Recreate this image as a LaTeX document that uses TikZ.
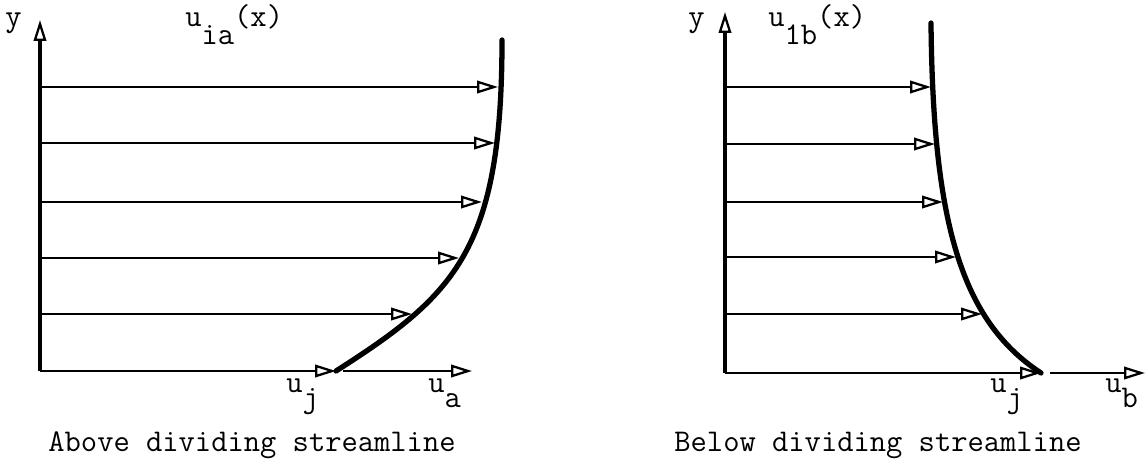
\documentclass[tikz,border=0pt]{standalone}
\usepackage{tikz}
\usetikzlibrary{arrows.meta}

\begin{document}
\begin{tikzpicture}[x=0.02cm, y=-0.02cm,
    vec/.style={line width=1.3pt, -{Triangle[open, length=0.42cm, width=0.25cm, line width=1.3pt]}},
    axis/.style={vec, line width=1.8pt},
    profile/.style={line width=3pt, line cap=round},
    lbl/.style={font=\fontsize{18}{21}\selectfont\ttfamily, inner sep=0pt}]
    \useasboundingbox (0,0) rectangle (1147,463);

    % Above dividing streamline
    \coordinate (oa) at (40,371);
    \coordinate (ya) at (40,20);
    \coordinate (xa) at (472,371);
    \coordinate (ja) at (336,371);
    \coordinate (ta) at (502,40);
    \foreach \n/\yy/\xx in {1/314/412, 2/258/459, 3/202/482, 4/143/495, 5/87/498} {
        \coordinate (la\n) at (40,\yy);
        \coordinate (pa\n) at (\xx,\yy);
    }
    \draw[axis] (oa) -- (ya);
    \draw[vec] (oa) -- (ja);
    \draw[vec, shorten <=4pt] (ja) -- (xa);
    \foreach \n in {1,...,5}
        \draw[vec] (la\n) -- (pa\n);
    \draw[profile] (ja) .. controls (455,295) and (502,250) .. (ta);

    \node[lbl, anchor=base west] (ylab-a) at (5,27) {y};
    \node[lbl, anchor=base west] (prof-a) at (185,27) {u\raisebox{-.55em}{ia}(x)};
    \node[lbl, anchor=base west] (uj-a) at (286,392) {u\raisebox{-.5em}{j}};
    \node[lbl, anchor=base west] (ua-a) at (428,392) {u\raisebox{-.5em}{a}};
    \node[lbl] (cap-a) at (252,445) {Above dividing streamline};

    % Below dividing streamline
    \coordinate (ob) at (725,373);
    \coordinate (yb) at (725,12);
    \coordinate (xb) at (1145,373);
    \coordinate (jb) at (1041,373);
    \coordinate (tb) at (931,23);
    \foreach \n/\yy/\xx in {1/314/982, 2/257/956, 3/202/943, 4/144/935, 5/87/931} {
        \coordinate (lb\n) at (725,\yy);
        \coordinate (pb\n) at (\xx,\yy);
    }
    \draw[axis] (ob) -- (yb);
    \draw[vec] (ob) -- (jb);
    \draw[vec, shorten <=5pt] (jb) -- (xb);
    \foreach \n in {1,...,5}
        \draw[vec] (lb\n) -- (pb\n);
    \draw[profile] (jb) .. controls (960,320) and (933,220) .. (tb);

    \node[lbl, anchor=base west] (ylab-b) at (688,27) {y};
    \node[lbl, anchor=base west] (prof-b) at (768,27) {u\raisebox{-.55em}{1b}(x)};
    \node[lbl, anchor=base west] (uj-b) at (990,392) {u\raisebox{-.5em}{j}};
    \node[lbl, anchor=base west] (ub-b) at (1105,392) {u\raisebox{-.5em}{b}};
    \node[lbl] (cap-b) at (878,445) {Below dividing streamline};
\end{tikzpicture}
\end{document}
